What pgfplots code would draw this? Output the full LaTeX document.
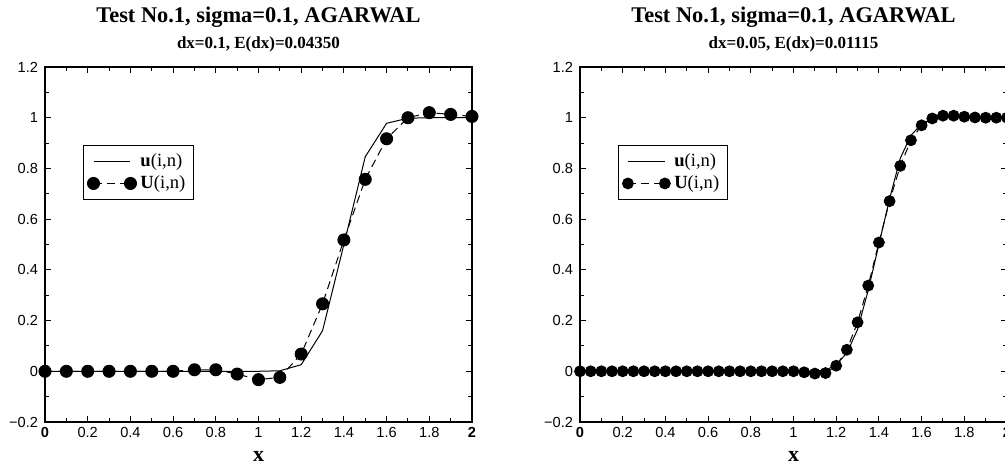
\documentclass[border=0pt]{standalone}
\usepackage{fontspec}
\setmainfont{Liberation Serif}
\newfontfamily\arial{Liberation Sans}
\usepackage{pgfplots}
\pgfplotsset{compat=1.18}

\pgfplotstableread{
x U
0.0 0
0.1 0
0.2 0
0.3 0
0.4 0
0.5 0
0.6 0
0.7 0.006
0.8 0.006
0.9 -0.011
1.0 -0.033
1.1 -0.024
1.2 0.068
1.3 0.266
1.4 0.518
1.5 0.757
1.6 0.917
1.7 1.0
1.8 1.02
1.9 1.013
2.0 1.005
}\leftU

\pgfplotstableread{
x u
0.0 0
0.1 0
0.2 0
0.3 0
0.4 0
0.5 0
0.6 0
0.7 0
0.8 0
0.9 0
1.0 0
1.1 0.002
1.2 0.026
1.3 0.16
1.4 0.50
1.5 0.846
1.6 0.978
1.7 0.998
1.8 1.0
1.9 1.0
2.0 1.0
}\leftu

\pgfplotstableread{
x U
0.00 0
0.05 0
0.10 0
0.15 0
0.20 0
0.25 0
0.30 0
0.35 0
0.40 0
0.45 0
0.50 0
0.55 0
0.60 0
0.65 0
0.70 0
0.75 0
0.80 0
0.85 0
0.90 0
0.95 0
1.00 0
1.05 -0.004
1.10 -0.009
1.15 -0.007
1.20 0.022
1.25 0.085
1.30 0.193
1.35 0.338
1.40 0.508
1.45 0.671
1.50 0.810
1.55 0.911
1.60 0.970
1.65 0.997
1.70 1.008
1.75 1.008
1.80 1.004
1.85 1.001
1.90 1.0
1.95 1.0
2.00 1.0
}\rightU

\pgfplotstableread{
x u
0.00 0
0.10 0
0.20 0
0.30 0
0.40 0
0.50 0
0.60 0
0.70 0
0.80 0
0.90 0
1.00 0
1.05 0
1.10 0.001
1.15 0.004
1.20 0.026
1.25 0.072
1.30 0.165
1.35 0.320
1.40 0.500
1.45 0.680
1.50 0.840
1.55 0.930
1.60 0.976
1.65 0.995
1.70 0.999
1.75 1.0
2.00 1.0
}\rightu

\pgfplotsset{
  myaxis/.style={
    scale only axis,
    width=213.5pt, height=177.5pt,
    xmin=0, xmax=2, ymin=-0.2, ymax=1.2,
    xtick={0,0.2,...,2.01},
    xticklabels={\textbf{0},0.2,0.4,0.6,0.8,1,1.2,1.4,1.6,1.8,\textbf{2}},
    ytick={-0.2,0,0.2,0.4,0.6,0.8,1,1.2},
    yticklabels={−0.2,0,0.2,0.4,0.6,0.8,1,1.2},
    minor x tick num=1, minor y tick num=1,
    tick align=inside,
    major tick length=3pt, minor tick length=1.8pt,
    axis line style={line width=0.6pt},
    every tick/.style={line width=0.5pt, black},
    ticklabel style={font=\arial\fontsize{7.3}{8}\selectfont},
    xticklabel style={yshift=1pt},
    xlabel={\fontsize{11}{12}\selectfont\bfseries x},
    xlabel style={yshift=0pt},
    title style={align=center, yshift=-2pt},
    legend style={draw=black, line width=0.5pt, font=\fontsize{9.3}{11}\selectfont,
      at={(0.089,0.78)}, anchor=north west, inner sep=2pt, row sep=-1pt,
      legend cell align=left},
    legend image code/.code={\draw[#1] plot coordinates {(0cm,0cm) (0.65cm,0cm)};},
  }
}

\begin{document}
\begin{tikzpicture}
\begin{axis}[myaxis, at={(22.5pt,21.5pt)}, anchor=south west,
  title={\fontsize{11.2}{13}\selectfont\bfseries Test No.1, sigma=0.1, AGARWAL\\[1pt]\fontsize{8.5}{10}\selectfont\bfseries dx=0.1, E(dx)=0.04350}]
\addplot[black, line width=0.5pt, no markers] table[x=x,y=u] {\leftu};
\addlegendentry{\textbf{u}(i,n)}
\addplot[black, line width=0.5pt, dash pattern=on 4pt off 2.5pt, mark=*, mark size=3pt, mark options={solid, fill=black}] table[x=x,y=U] {\leftU};
\addlegendentry{\textbf{U}(i,n)}
\end{axis}
\begin{axis}[myaxis, at={(290pt,21.5pt)}, anchor=south west,
  title={\fontsize{11.2}{13}\selectfont\bfseries Test No.1, sigma=0.1, AGARWAL\\[1pt]\fontsize{8.5}{10}\selectfont\bfseries dx=0.05, E(dx)=0.01115}]
\addplot[black, line width=0.5pt, no markers] table[x=x,y=u] {\rightu};
\addlegendentry{\textbf{u}(i,n)}
\addplot[black, line width=0.5pt, dash pattern=on 4pt off 2.5pt, mark=*, mark size=2.7pt, mark options={solid, fill=black}] table[x=x,y=U] {\rightU};
\addlegendentry{\textbf{U}(i,n)}
\end{axis}
\pgfresetboundingbox
\path (0pt,0pt) rectangle (502.5pt,232.5pt);
\end{tikzpicture}
\end{document}
